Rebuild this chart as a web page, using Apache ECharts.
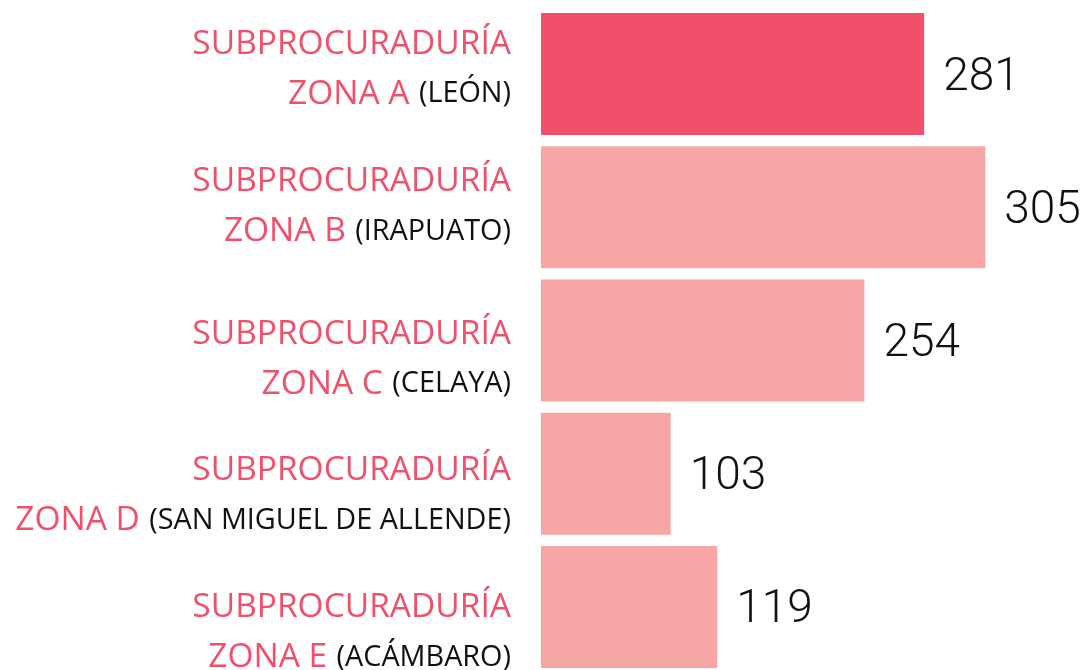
<!DOCTYPE html>
<html>
<head>
<meta charset="utf-8">
<script src="https://cdn.jsdelivr.net/npm/echarts@6/dist/echarts.min.js"></script>
<style>
  html, body { margin: 0; padding: 0; background: #fff; }
  #chart { width: 1081px; height: 670px; }
</style>
</head>
<body>
<div id="chart"></div>
<script>
// zonas (texto rojo) y sede (texto negro)
const zones = ["ZONA A", "ZONA B", "ZONA C", "ZONA D", "ZONA E"];
const cities = ["(LEÓN)", "(IRAPUATO)", "(CELAYA)", "(SAN MIGUEL DE ALLENDE)", "(ACÁMBARO)"];
// cifras que muestran las etiquetas
const counts = [281, 305, 254, 103, 119];
// largo de cada barra
const barLengths = [263, 305, 222, 89, 121];

const red = "#F0506A";
const pink = "#F6A6A5";

// las etiquetas de la izquierda no quedan centradas igual en cada barra
const labelPads = [[0, 0, 10, 0], [0, 0, 2, 0], [37, 0, 0, 0], [44, 0, 0, 0], [52, 0, 0, 0]];

const chart = echarts.init(document.getElementById("chart"));

chart.setOption({
  animation: false,
  grid: { left: 541, top: 7.5, width: 539, height: 666, containLabel: false, outerBoundsMode: "none" },
  xAxis: {
    type: "value",
    min: 0,
    max: 370,
    show: false,
  },
  yAxis: {
    type: "category",
    inverse: true,
    data: zones.map((z, i) => ({ value: z, textStyle: { padding: labelPads[i] } })),
    axisLine: { show: false },
    axisTick: { show: false },
    axisLabel: {
      interval: 0,
      showMinLabel: true,
      showMaxLabel: true,
      hideOverlap: false,
      margin: 30,
      align: "right",
      lineHeight: 50,
      formatter: (value, i) => "{a|SUBPROCURADURÍA}\n{a|" + value + "}{s| }{b|" + cities[i] + "}",
      rich: {
        a: { color: red, fontFamily: "Open Sans", fontSize: 33.5, lineHeight: 50 },
        s: { fontFamily: "Open Sans", fontSize: 36, lineHeight: 50 },
        b: { color: "#111", fontFamily: "Open Sans", fontSize: 28.8, lineHeight: 50 },
      },
    },
  },
  series: [
    {
      type: "bar",
      barWidth: 122,
      data: barLengths.map((v, i) => ({
        value: v,
        itemStyle: { color: i === 0 ? red : pink },
      })),
      label: {
        show: true,
        position: "right",
        distance: 19,
        formatter: (p) => String(counts[p.dataIndex]),
        color: "#111",
        fontFamily: "Roboto",
        fontWeight: 300,
        fontSize: 46,
        offset: [0, 4],
      },
    },
  ],
});
</script>
</body>
</html>
